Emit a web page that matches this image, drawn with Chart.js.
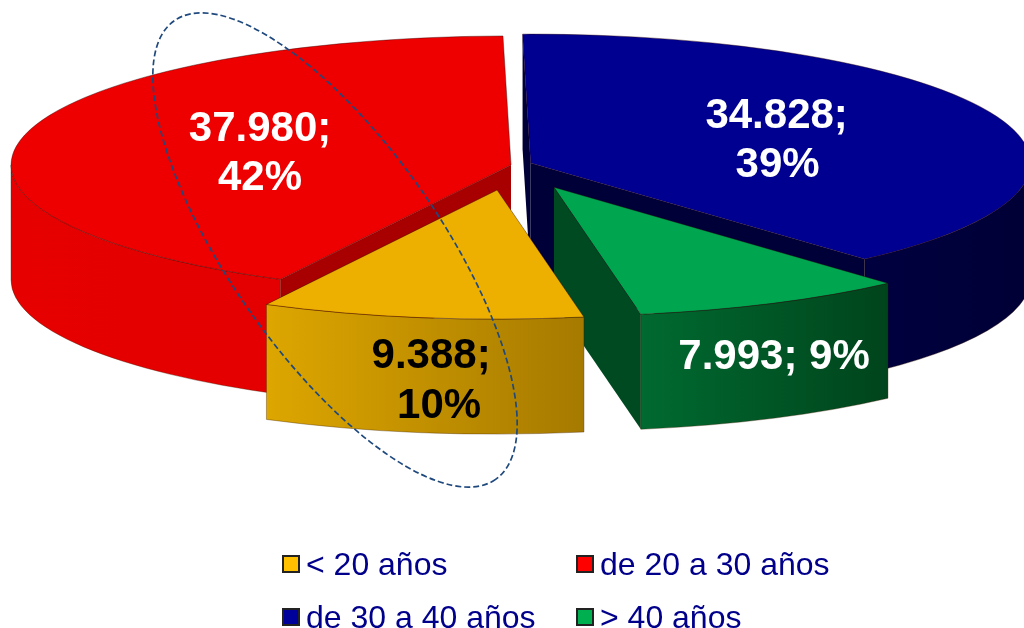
<!DOCTYPE html>
<html>
<head>
<meta charset="utf-8">
<style>html,body{margin:0;padding:0;background:#fff}canvas{display:block}</style>
<script src="https://cdn.jsdelivr.net/npm/chart.js@4/dist/chart.umd.min.js"></script>
</head>
<body>
<canvas id="c" width="1024" height="628"></canvas>
<script>
// ---- data ----
const categories = ['< 20 años', 'de 20 a 30 años', 'de 30 a 40 años', '> 40 años'];
const values = [9388, 37980, 34828, 7993];

// ---- styles ----
const topColors = ['#EEB000', '#EE0000', '#000090', '#00A64F'];
const legendColors = ['#FFC000', '#FF0000', '#00009A', '#00B050'];
const faceColors = ['#8A6500', '#A80000', '#000038', '#004A22'];
const wallLeft = ['#DDA600', '#E60000', '#000040', '#006A30'];
const wallRight = ['#A67A00', '#E40000', '#000036', '#00441C'];
const explode = [98, 1, 20, 96];
const labelColors = ['#000', '#fff', '#fff', '#fff'];
const labelLines = [[[-66, 178], [-58, 228]], [[-251, -24], [-251, 25]], [[246, -35], [247, 14]], [[220, 182]]];
const labelBreak = [true, true, true, false];
const SQUASH = 0.258, DEPTH = 115, RADIUS = 500, ROTATION = 170;
const FONT = '"Liberation Sans", Arial, sans-serif';
const legendCols = [282, 576], legendRows = [555, 608];

const total = values.reduce((a, b) => a + b, 0);
const fmt = v => String(v).replace(/\B(?=(\d{3})+$)/g, '.');

function screenY(chart, arc, y) {
  const cy = chart._cy;
  return cy + (y - cy) * SQUASH;
}

const pie3d = {
  id: 'pie3d',
  afterDatasetsUpdate(chart) {
    const arcs = chart.getDatasetMeta(0).data;
    chart._cy = (chart.chartArea.top + chart.chartArea.bottom) / 2;
    arcs.forEach((arc, i) => {
      const mid = (arc.startAngle + arc.endAngle) / 2;
      arc.x += Math.cos(mid) * explode[i];
      arc.y += Math.sin(mid) * explode[i];
    });
  },
  beforeDatasetDraw(chart) {
    const ctx = chart.ctx;
    const arcs = chart.getDatasetMeta(0).data;
    const order = arcs.map((a, i) => i).sort((p, q) => explode[p] - explode[q]);
    order.forEach(i => {
      const a = arcs[i];
      const ax = a.x, ay = screenY(chart, a, a.y), rx = a.outerRadius, ry = rx * SQUASH;
      const face = ang => {
        const px = ax + Math.cos(ang) * rx, py = ay + Math.sin(ang) * ry;
        ctx.beginPath();
        ctx.moveTo(ax, ay); ctx.lineTo(px, py); ctx.lineTo(px, py + DEPTH); ctx.lineTo(ax, ay + DEPTH);
        ctx.closePath();
        ctx.fillStyle = faceColors[i];
        ctx.fill();
      };
      if (Math.cos(a.startAngle) < 0) face(a.startAngle);
      if (Math.cos(a.endAngle) > 0) face(a.endAngle);
      for (let n = -1; n <= 2; n++) {
        const lo = Math.max(a.startAngle, n * 2 * Math.PI);
        const hi = Math.min(a.endAngle, n * 2 * Math.PI + Math.PI);
        if (hi <= lo) continue;
        const x0 = ax + Math.cos(hi) * rx, x1 = ax + Math.cos(lo) * rx;
        const g = ctx.createLinearGradient(x0, 0, x1, 0);
        g.addColorStop(0, wallLeft[i]);
        g.addColorStop(1, wallRight[i]);
        ctx.beginPath();
        ctx.ellipse(ax, ay, rx, ry, 0, lo, hi);
        ctx.ellipse(ax, ay + DEPTH, rx, ry, 0, hi, lo, true);
        ctx.closePath();
        ctx.fillStyle = g;
        ctx.fill();
        ctx.strokeStyle = 'rgba(60,30,0,0.35)';
        ctx.lineWidth = 1;
        ctx.stroke();
      }
    });
    ctx.save();
    ctx.translate(0, chart._cy);
    ctx.scale(1, SQUASH);
    ctx.translate(0, -chart._cy);
  },
  afterDatasetDraw(chart) {
    const ctx = chart.ctx;
    ctx.restore();
    chart.getDatasetMeta(0).data.forEach(a => {
      const ax = a.x, ay = screenY(chart, a, a.y), rx = a.outerRadius, ry = rx * SQUASH;
      ctx.beginPath();
      ctx.moveTo(ax, ay);
      ctx.ellipse(ax, ay, rx, ry, 0, a.startAngle, a.endAngle);
      ctx.closePath();
      ctx.strokeStyle = 'rgba(40,0,0,0.4)';
      ctx.lineWidth = 1;
      ctx.stroke();
    });
  },
  afterDraw(chart) {
    const ctx = chart.ctx;
    const arcs = chart.getDatasetMeta(0).data;
    // dashed highlight ring
    ctx.save();
    ctx.beginPath();
    ctx.ellipse(335, 250, 280, 105, 55 * Math.PI / 180, 0, Math.PI * 2);
    ctx.strokeStyle = '#1F497D';
    ctx.lineWidth = 1.7;
    ctx.setLineDash([6, 3]);
    ctx.stroke();
    ctx.restore();
    // value labels
    ctx.save();
    ctx.font = 'bold 42px ' + FONT;
    ctx.textAlign = 'center';
    ctx.textBaseline = 'alphabetic';
    arcs.forEach((a, i) => {
      const pct = Math.round(values[i] / total * 100) + '%';
      const txt = labelBreak[i] ? [fmt(values[i]) + ';', pct] : [fmt(values[i]) + '; ' + pct];
      const ay = screenY(chart, a, a.y);
      ctx.fillStyle = labelColors[i];
      txt.forEach((t, l) => ctx.fillText(t, a.x + labelLines[i][l][0], ay + labelLines[i][l][1]));
    });
    ctx.restore();
    // legend
    ctx.save();
    ctx.textAlign = 'left';
    ctx.textBaseline = 'alphabetic';
    ctx.font = '32px ' + FONT;
    categories.forEach((name, i) => {
      const x = legendCols[i % 2], y = legendRows[Math.floor(i / 2)];
      ctx.fillStyle = legendColors[i];
      ctx.fillRect(x + 1, y + 1, 16, 16);
      ctx.strokeStyle = '#222';
      ctx.lineWidth = 2;
      ctx.strokeRect(x + 1, y + 1, 16, 16);
      ctx.fillStyle = '#00008B';
      ctx.fillText(name, x + 24, y + 20);
    });
    ctx.restore();
  }
};

new Chart(document.getElementById('c'), {
  type: 'pie',
  data: {
    labels: categories,
    datasets: [{
      data: values,
      backgroundColor: topColors,
      borderWidth: 0,
      radius: RADIUS,
      clip: false
    }]
  },
  options: {
    responsive: false,
    animation: false,
    rotation: ROTATION,
    layout: { padding: { bottom: 298 } },
    plugins: { legend: { display: false }, tooltip: { enabled: false } }
  },
  plugins: [pie3d]
});
</script>
</body>
</html>
